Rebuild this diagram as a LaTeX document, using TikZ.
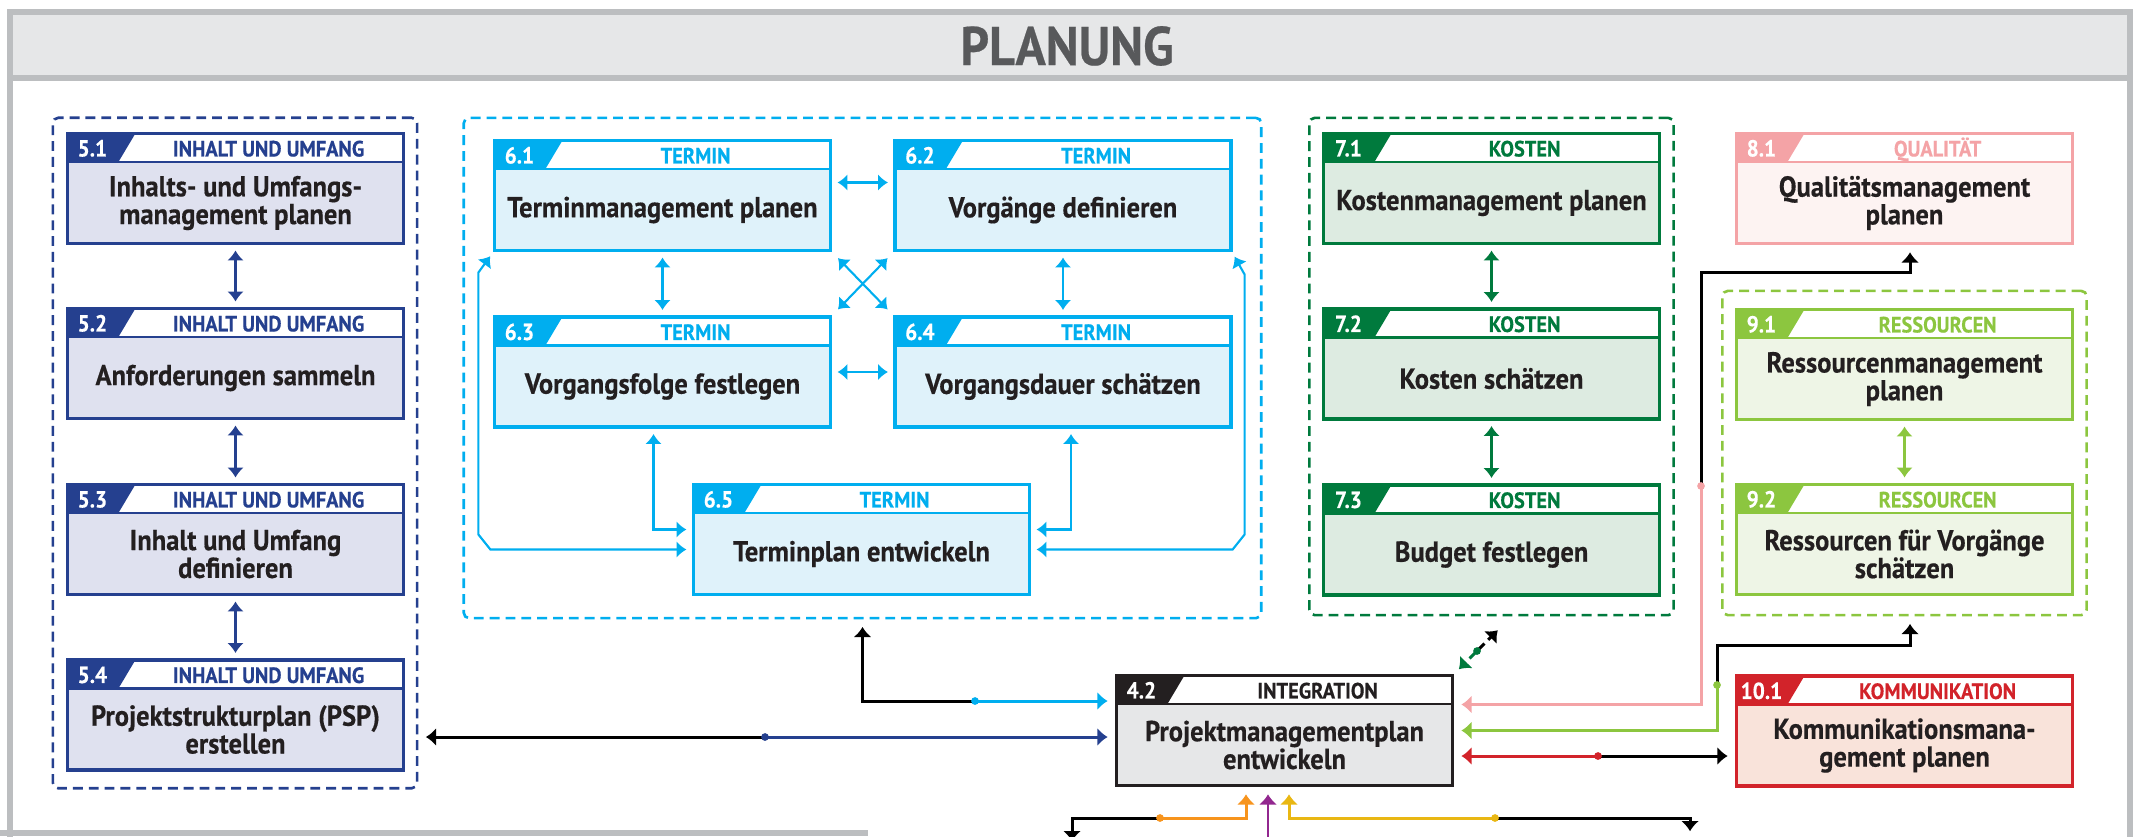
\documentclass[tikz,border=0pt]{standalone}
\usepackage{fontspec}
\setmainfont{PT Sans}[FakeStretch=0.92,BoldFeatures={FakeBold=0.4}]
\usetikzlibrary{arrows.meta}
\definecolor{c4}{HTML}{231F20}
\definecolor{f4}{HTML}{E6E7E8}
\definecolor{c5}{HTML}{25408F}
\definecolor{f5}{HTML}{DFE1EF}
\definecolor{c6}{HTML}{00AEEF}
\definecolor{f6}{HTML}{DFF2FA}
\definecolor{c7}{HTML}{007A3D}
\definecolor{f7}{HTML}{DDEBE1}
\definecolor{c8}{HTML}{F4A3A6}
\definecolor{f8}{HTML}{FDF3F2}
\definecolor{c9}{HTML}{8CC63F}
\definecolor{f9}{HTML}{EEF5E6}
\definecolor{c10}{HTML}{D2232A}
\definecolor{f10}{HTML}{F9E3DA}
\definecolor{cor}{HTML}{F7941D}
\definecolor{cpu}{HTML}{92278F}
\definecolor{cye}{HTML}{E9B713}
\definecolor{frm}{HTML}{BCBEC0}
\definecolor{hdr}{HTML}{E6E7E8}
\definecolor{hdrtxt}{HTML}{58595B}
\tikzset{
	proc/.style={fill=#1,minimum width=3.36cm,minimum height=1.10cm,inner sep=0pt,outer sep=0pt},
	rim/.style={draw=#1,line width=1pt},
	grp/.style={draw=#1,line width=.75pt,dash pattern=on 2.8pt off 1.7pt,rounded corners=1.5pt,inner sep=0pt,outer sep=0pt},
	numtxt/.style={text=white,font=\bfseries\fontsize{6.6}{6.6}\selectfont,inner sep=0pt,anchor=base},
	cattxt/.style={text=#1,font=\bfseries\fontsize{6.3}{6.3}\selectfont,inner sep=0pt,anchor=base},
	bodytxt/.style={text=c4,font=\bfseries\fontsize{8.2}{7.9}\selectfont,align=center,inner sep=0pt},
	arr/.style={color=#1,line width=.6pt,{Latex[length=2.8pt,width=4.8pt]}-{Latex[length=2.8pt,width=4.8pt]},shorten <=2pt,shorten >=2pt},
	lnk/.style={line width=.85pt,-{Latex[length=2.9pt,width=5.2pt]},shorten >=2.5pt}
}
\newcommand{\procbox}[7]{%
	\node[proc=#4] at (#2)(#1){};
	\fill[white] (#1.north west) rectangle ([shift={(0,28.5)}]#1.north east);
	\fill[#3] (#1.north west) -- ++(68,0) -- ++(-17,28.5) -- ++(-51,0) -- cycle;
	\draw[#3,line width=.6pt] ([shift={(0,28.5)}]#1.north west) -- ([shift={(0,28.5)}]#1.north east);
	\draw[rim=#3] (#1.north west) rectangle (#1.south east);
	\node[numtxt] at ([shift={(25,23)}]#1.north west)(#1n){#5};
	\node[cattxt=#3] at ([shift={(-135,23)}]#1.north east)(#1c){#6};
	\node[bodytxt] at ([shift={(0,14.5)}]#1.center)(#1t){#7};
}

\begin{document}
\begin{tikzpicture}[x=0.01cm,y=-0.01cm]
	\useasboundingbox (0,0) rectangle (2143,836);
	\clip (0,0) rectangle (2143,836);
	\fill[hdr] (10,12) rectangle (2130,78);
	\draw[frm,line width=1.5pt] (10,850)--(10,12)--(2130,12)--(2130,850) (10,78)--(2130,78) (0,833)--(868,833);
	\node[text=hdrtxt,font=\bfseries\fontsize{15.5}{16}\selectfont] at (1067,46)(plan){PLANUNG};
	
	\node[grp=c5,minimum width=3.64cm,minimum height=6.70cm] at (235,453)(g5){};
	\node[grp=c6,minimum width=7.97cm,minimum height=5.00cm] at (862.5,368)(g6){};
	\node[grp=c7,minimum width=3.64cm,minimum height=4.97cm] at (1491.5,366.5)(g7){};
	\node[grp=c9,minimum width=3.64cm,minimum height=3.24cm] at (1904.5,453)(g9){};
	
	\procbox{p51}{235.5,188.5}{c5}{f5}{5.1}{INHALT UND UMFANG}{Inhalts- und Umfangs-\\management planen}
	\procbox{p52}{235.5,363.5}{c5}{f5}{5.2}{INHALT UND UMFANG}{Anforderungen sammeln}
	\procbox{p53}{235.5,539.5}{c5}{f5}{5.3}{INHALT UND UMFANG}{Inhalt und Umfang\\definieren}
	\procbox{p54}{235.5,715}{c5}{f5}{5.4}{INHALT UND UMFANG}{Projektstrukturplan (PSP)\\erstellen}
	\path[arr=c5](p51)edge(p52)(p52)edge(p53)(p53)edge(p54);
	
	\procbox{p61}{662.5,195.5}{c6}{f6}{6.1}{TERMIN}{Terminmanagement planen}
	\procbox{p62}{1063,195.5}{c6}{f6}{6.2}{TERMIN}{Vorgänge definieren}
	\procbox{p63}{662.5,372}{c6}{f6}{6.3}{TERMIN}{Vorgangsfolge festlegen}
	\procbox{p64}{1063,372}{c6}{f6}{6.4}{TERMIN}{Vorgangsdauer schätzen}
	\procbox{p65}{861.5,539.5}{c6}{f6}{6.5}{TERMIN}{Terminplan entwickeln}
	\path[arr=c6](p61)edge(p63)(p62)edge(p64)(p63)edge(p64)
		([shift={(0,-13)}]p61.east)edge([shift={(0,-13)}]p62.west)
		(p61.south east)edge[shorten <=3pt,shorten >=3pt](p64.north west)
		(p62.south west)edge[shorten <=3pt,shorten >=3pt](p63.north east);
	\draw[arr=c6]([shift={(0,-10)}]p65.west)-|([shift={(-9,0)}]p63.south);
	\draw[arr=c6]([shift={(0,-10)}]p65.east)-|([shift={(8,0)}]p64.south);
	\draw[arr=c6]([shift={(0,10)}]p65.west)--++(-203,0)--++(-12,-15)--++(0,-262)--(p61.south west);
	\draw[arr=c6]([shift={(0,10)}]p65.east)--++(203,0)--++(12,-15)--++(0,-260)--(p62.south east);
	
	\procbox{p71}{1491.5,188.5}{c7}{f7}{7.1}{KOSTEN}{Kostenmanagement planen}
	\procbox{p72}{1491.5,364}{c7}{f7}{7.2}{KOSTEN}{Kosten schätzen}
	\procbox{p73}{1491.5,540}{c7}{f7}{7.3}{KOSTEN}{Budget festlegen}
	\path[arr=c7](p71)edge(p72)(p72)edge(p73);
	
	\procbox{p81}{1904.5,188.5}{c8}{f8}{8.1}{QUALITÄT}{Qualitätsmanagement\\planen}
	\procbox{p91}{1904.5,364.5}{c9}{f9}{9.1}{RESSOURCEN}{Ressourcenmanagement\\planen}
	\procbox{p92}{1904.5,539.5}{c9}{f9}{9.2}{RESSOURCEN}{Ressourcen für Vorgänge\\schätzen}
	\path[arr=c9](p91)edge(p92);
	
	\procbox{p42}{1284.5,730.5}{c4}{f4}{4.2}{INTEGRATION}{Projektmanagementplan\\entwickeln}
	\procbox{p101}{1904.5,731}{c10}{f10}{10.1}{KOMMUNIKATION}{Kommunikationsmana-\\gement planen}
	
	\coordinate (d5) at (765,737);
	\draw[lnk](d5)--(g5.east|-d5);
	\draw[lnk,c5](d5)--(p42.west|-d5);
	\fill[c5](d5)circle(1.1pt);
	
	\coordinate (d6) at (975,701);
	\draw[lnk](d6)-|(g6.south);
	\draw[lnk,c6](d6)--(p42.west|-d6);
	\fill[c6](d6)circle(1.1pt);
	
	\coordinate (d7) at (1477,651);
	\coordinate (t7) at (1504,624);
	\draw[lnk,dash pattern=on 3pt off 1.5pt](d7)--(t7);
	\draw[lnk,c7,dash pattern=on 3pt off 1.5pt](d7)--(p42.north east);
	\fill[c7](d7)circle(1.1pt);
	
	\coordinate (d8) at (1701,486);
	\coordinate (k8) at (1910,272);
	\draw[lnk](d8)|-(k8)--(k8|-p81.south);
	\draw[lnk,c8](d8)|-([shift={(0,-26)}]p42.east);
	\fill[c8](d8)circle(1.1pt);
	
	\coordinate (d9) at (1717,685);
	\coordinate (k9) at (1910,645);
	\draw[lnk](d9)|-(k9)--(k9|-g9.south);
	\draw[lnk,c9](d9)|-(p42.east);
	\fill[c9](d9)circle(1.1pt);
	
	\coordinate (d10) at (1598,756);
	\draw[lnk](d10)--(p101.west|-d10);
	\draw[lnk,c10](d10)--(p42.east|-d10);
	\fill[c10](d10)circle(1.1pt);
	
	\coordinate (dor) at (1160,818);
	\coordinate (o4) at (1072,850);
	\draw[lnk](dor)-|(o4);
	\draw[lnk,cor](dor)-|([shift={(-38.5,0)}]p42.south);
	\fill[cor](dor)circle(1.1pt);
	
	\coordinate (dye) at (1495,818);
	\coordinate (o5) at (1690,840);
	\draw[lnk](dye)-|(o5);
	\draw[lnk,cye](dye)-|([shift={(4.5,0)}]p42.south);
	\fill[cye](dye)circle(1.1pt);
	
	\coordinate (o6) at (1268,850);
	\draw[lnk,cpu,line width=.6pt](o6)--([shift={(-16.5,0)}]p42.south);
\end{tikzpicture}
\end{document}
